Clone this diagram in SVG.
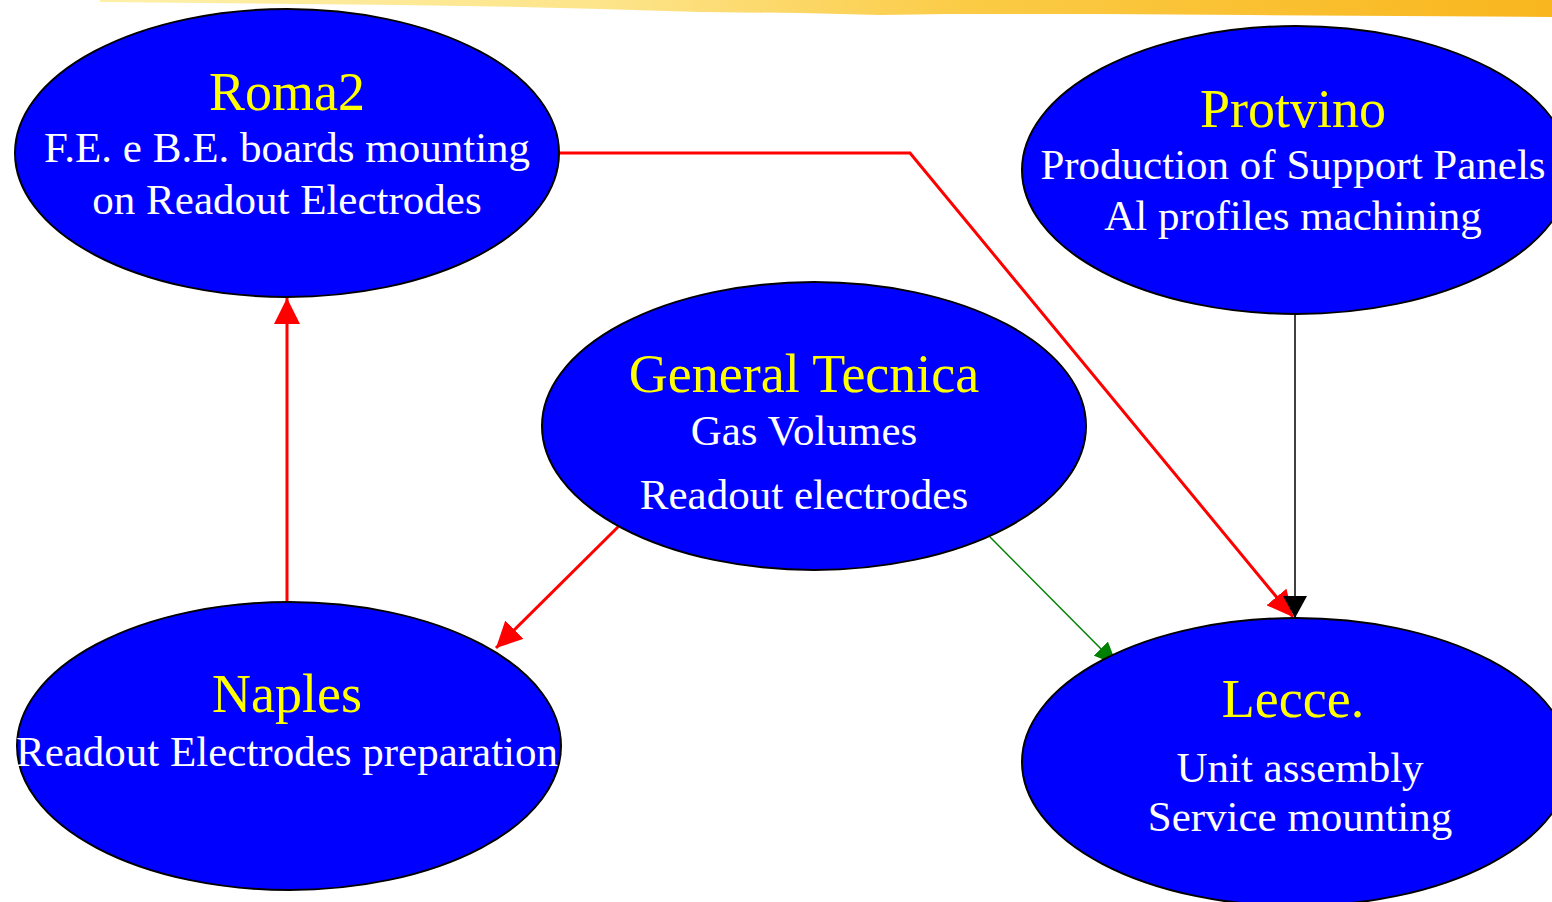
<svg xmlns="http://www.w3.org/2000/svg" width="1552" height="902" viewBox="0 0 1552 902">
<defs>
<linearGradient id="bar" x1="0" y1="0" x2="1" y2="0">
<stop offset="0" stop-color="#fdf0a8"/>
<stop offset="0.35" stop-color="#fde48a"/>
<stop offset="0.6" stop-color="#fbcb45"/>
<stop offset="1" stop-color="#f9b61e"/>
</linearGradient>
<marker id="ar" markerUnits="userSpaceOnUse" markerWidth="28" markerHeight="26" refX="26" refY="13" orient="auto"><path d="M0,0 L26,13 L0,26 Z" fill="#ff0000"/></marker>
<marker id="ag" markerUnits="userSpaceOnUse" markerWidth="24" markerHeight="20" refX="23" refY="10" orient="auto"><path d="M0,0 L23,10 L0,20 Z" fill="#008000"/></marker>
<marker id="ak" markerUnits="userSpaceOnUse" markerWidth="24" markerHeight="24" refX="22" refY="12" orient="auto"><path d="M0,0 L22,12 L0,24 Z" fill="#000000"/></marker>
</defs>
<style>
.node ellipse{fill:#0000ff;stroke:#000;stroke-width:2}
.t{font-family:"Liberation Serif","Times New Roman",serif;font-size:54px;fill:#ffff00;text-anchor:middle}
.s{font-family:"Liberation Serif","Times New Roman",serif;font-size:43px;fill:#ffffff;text-anchor:middle}
.red{fill:none;stroke:#ff0000;stroke-width:3}
</style>
<path d="M100,0 L1552,0 L1552,17 L1400,16 L1250,15 L1100,14 L950,14 L880,15 L800,13 L700,12 L600,9 L520,7 L400,5 L300,4 L200,3 L100,2 Z" fill="url(#bar)"/>
<g id="connectors">
<polyline class="red" points="559,153 910,153 1293,617" marker-end="url(#ar)"/>
<line class="red" x1="287" y1="602" x2="287" y2="298" marker-end="url(#ar)"/>
<line class="red" x1="623" y1="522" x2="496" y2="648" marker-end="url(#ar)"/>
<line x1="990" y1="537" x2="1117" y2="665" stroke="#008000" stroke-width="1.5" marker-end="url(#ag)"/>
<line x1="1295" y1="314" x2="1295" y2="618" stroke="#000" stroke-width="1.5" marker-end="url(#ak)"/>
</g>
<g id="roma2" class="node">
<ellipse cx="287" cy="153" rx="272" ry="144"/>
<text class="t" x="287" y="110">Roma2</text>
<text class="s" x="287" y="162">F.E. e B.E. boards mounting</text>
<text class="s" x="287" y="214">on Readout Electrodes</text>
</g>
<g id="protvino" class="node">
<ellipse cx="1296" cy="170" rx="274" ry="144"/>
<text class="t" x="1293" y="127">Protvino</text>
<text class="s" x="1293" y="179">Production of Support Panels</text>
<text class="s" x="1293" y="230">Al profiles machining</text>
</g>
<g id="general-tecnica" class="node">
<ellipse cx="814" cy="426" rx="272" ry="144"/>
<text class="t" x="804" y="392">General Tecnica</text>
<text class="s" x="804" y="445">Gas Volumes</text>
<text class="s" x="804" y="509">Readout electrodes</text>
</g>
<g id="naples" class="node">
<ellipse cx="289" cy="746" rx="272" ry="144"/>
<text class="t" x="287" y="712">Naples</text>
<text class="s" x="287" y="766">Readout Electrodes preparation</text>
</g>
<g id="lecce" class="node">
<ellipse cx="1296" cy="762" rx="274" ry="144"/>
<text class="t" x="1293" y="717">Lecce.</text>
<text class="s" x="1300" y="782">Unit assembly</text>
<text class="s" x="1300" y="831">Service mounting</text>
</g>
</svg>
